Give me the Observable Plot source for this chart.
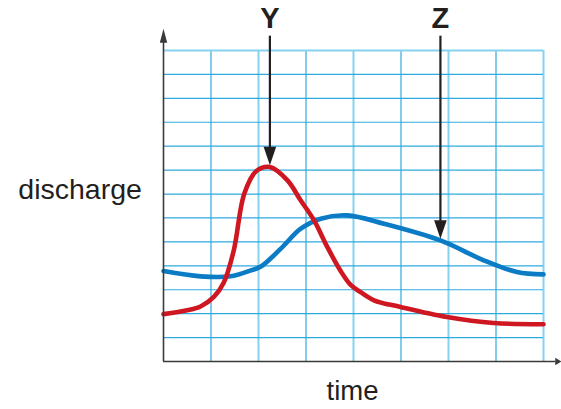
<!DOCTYPE html>
<html><head><meta charset="utf-8">
<script src="https://cdn.jsdelivr.net/npm/d3@7"></script>
<script src="https://cdn.jsdelivr.net/npm/@observablehq/plot@0.6"></script>
<style>body{margin:0;background:#fff}</style>
</head><body><div id="chart"></div>
<script>
// Red hydrograph (Y)
const redTime =      [0,    0.5,  0.78, 1.06, 1.27, 1.48, 1.70, 1.95, 2.24, 2.61, 2.89, 3.17, 3.45, 3.73, 3.94, 4.15, 4.43, 4.99, 5.97, 6.95, 8];
const redDischarge = [1.98, 2.14, 2.30, 2.70, 3.30, 4.65, 7.01, 7.95, 8.13, 7.57, 6.73, 5.90, 4.78, 3.78, 3.20, 2.90, 2.56, 2.28, 1.86, 1.61, 1.56];
// Blue hydrograph (Z)
const blueTime =      [0,    0.78, 1.41, 1.84, 2.05, 2.47, 2.89, 3.31, 3.87, 4.64, 5.83, 6.74, 7.44, 8];
const blueDischarge = [3.78, 3.56, 3.56, 3.81, 3.97, 4.72, 5.55, 5.97, 6.11, 5.76, 5.06, 4.23, 3.74, 3.64];
// Grid
const gridX = [1, 2, 3, 4, 5, 6, 7, 8];
const gridY = [1, 2, 3, 4, 5, 6, 7, 8, 9, 10, 11, 12, 13];
// Pointer arrows
const arrowLabels = ["Y", "Z"];
const arrowTime = [2.24, 5.83];
const arrowTip = [8.2, 5.13];
// Axis titles
const xTitle = "time";
const yTitle = "discharge";

const red = redTime.map((t, i) => ({t, v: redDischarge[i]}));
const blue = blueTime.map((t, i) => ({t, v: blueDischarge[i]}));
const arrows = arrowLabels.map((label, i) => ({label, t: arrowTime[i], tip: arrowTip[i]}));

const triDown = {draw(c) { c.moveTo(0, 0); c.lineTo(-6.3, -18.5); c.lineTo(6.3, -18.5); c.closePath(); }};
const triUp = {draw(c) { c.moveTo(0, -7); c.lineTo(3.7, 7); c.lineTo(-3.7, 7); c.closePath(); }};
const triRight = {draw(c) { c.moveTo(3, 0); c.lineTo(-3, -3.8); c.lineTo(-3, 3.8); c.closePath(); }};

const font = "Liberation Sans, Arial, Helvetica, sans-serif";
const ink = "#231f20";

const chart = Plot.plot({
  width: 561,
  height: 409,
  marginLeft: 163,
  marginRight: 18,
  marginTop: 50,
  marginBottom: 48,
  x: {domain: [0, 8], axis: null},
  y: {domain: [0, 13], axis: null},
  style: {background: "#fff", fontFamily: font, overflow: "visible"},
  marks: [
    Plot.ruleX(gridX, {x: d => d, y1: 0, y2: 13, stroke: d => d % 2 === 0 ? "light" : "dark"}),
    Plot.ruleY(gridY, {y: d => d, x1: 0, x2: 8, stroke: d => d === 13 ? "light" : "dark"}),
    Plot.line(blue, {x: "t", y: "v", curve: "catmull-rom", stroke: "#0a7bc4", strokeWidth: 4.6}),
    Plot.line(red, {x: "t", y: "v", curve: "catmull-rom", stroke: "#cf1722", strokeWidth: 4.6}),
    Plot.ruleX([0], {y1: 0, y2: 13.4, stroke: "#3a3a3a", strokeWidth: 1.6}),
    Plot.ruleY([0], {x1: 0, x2: 8.26, stroke: "#3a3a3a", strokeWidth: 1.6}),
    Plot.dot([0], {x: 0, y: 13.62, symbol: triUp, fill: "#3a3a3a", stroke: "none"}),
    Plot.dot([0], {x: 8.31, y: 0, symbol: triRight, fill: "#3a3a3a", stroke: "none"}),
    Plot.link(arrows, {x1: "t", x2: "t", y1: 13.62, y2: d => d.tip + 0.6, stroke: ink, strokeWidth: 2.2}),
    Plot.dot(arrows, {x: "t", y: "tip", symbol: triDown, fill: ink, stroke: "none"}),
    Plot.text(arrows, {x: "t", y: 13.96, text: "label", lineAnchor: "bottom", fontSize: 29, fontWeight: "bold", fill: ink}),
    Plot.text([yTitle], {x: -0.455, y: 6.78, text: d => d, textAnchor: "end", lineAnchor: "bottom", fontSize: 28.5, fill: ink}),
    Plot.text([xTitle], {x: 3.98, y: -1.59, text: d => d, lineAnchor: "bottom", fontSize: 27.5, fill: ink})
  ],
  color: {domain: ["dark", "light"], range: ["#2eaae0", "#86d2f1"]}
});

document.getElementById("chart").append(chart);
// widen the light grid lines
chart.querySelectorAll("line").forEach(l => {
  const s = l.getAttribute("stroke");
  if (s === "#86d2f1") l.setAttribute("stroke-width", "2");
  if (s === "#2eaae0") l.setAttribute("stroke-width", "1.2");
});
</script>
</body></html>
